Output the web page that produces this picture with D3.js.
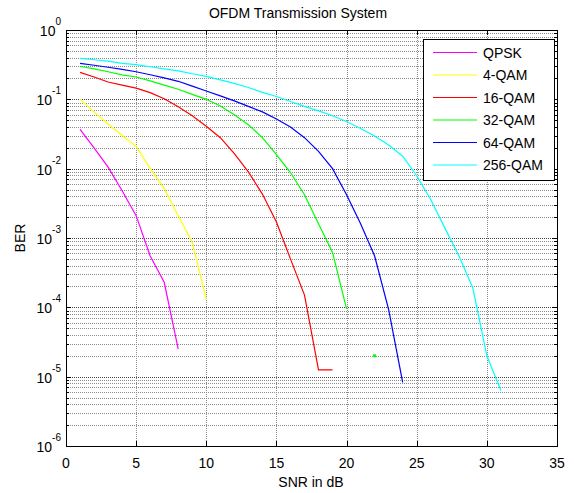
<!DOCTYPE html>
<html>
<head>
<meta charset="utf-8">
<script src="https://cdn.jsdelivr.net/npm/d3@7"></script>
<style>
body { margin: 0; background: #fff; }
text { font-family: "Liberation Sans", Arial, sans-serif; fill: #000; }
</style>
</head>
<body>
<div id="chart"></div>
<script>
// SNR points (dB)
var snr = [1,2,3,4,5,6,7,8,9,10,11,12,13,14,15,16,17,18,19,20,21,22,23,24,25,26,27,28,29,30,31]

// BER, one value per snr point (0 = not plotted on log axis)
var qpskBer = [0.037, 0.020, 0.0105, 0.0048, 0.0021, 5.5e-4, 2.3e-4, 2.5e-5]
var qam4Ber = [0.1, 0.066, 0.044, 0.030, 0.021, 0.010, 0.0052, 0.0021, 8.7e-4, 1.3e-4]
var qam16Ber = [0.245, 0.21, 0.178, 0.16, 0.145, 0.125, 0.102, 0.078, 0.058, 0.041,
    0.028, 0.0165, 0.009, 0.0043, 0.0017, 5e-4, 1.5e-4, 1.25e-5, 1.25e-5]
var qam32Ber = [0.30, 0.275, 0.25, 0.225, 0.21, 0.185, 0.16, 0.14, 0.118, 0.10,
    0.08, 0.06, 0.043, 0.028, 0.016, 0.0088, 0.0042, 0.0016, 6.2e-4, 9.5e-5, 0, 2e-5]
var qam64Ber = [0.33, 0.31, 0.29, 0.27, 0.25, 0.226, 0.204, 0.182, 0.155, 0.132,
    0.112, 0.095, 0.079, 0.066, 0.052, 0.040, 0.028, 0.0178, 0.010, 0.0042,
    0.0016, 5.5e-4, 9.3e-5, 8.3e-6]
var qam256Ber = [0.389, 0.372, 0.355, 0.331, 0.316, 0.295, 0.275, 0.257, 0.234, 0.214,
    0.191, 0.170, 0.148, 0.126, 0.110, 0.093, 0.079, 0.068, 0.058, 0.048,
    0.038, 0.0295, 0.0219, 0.0151, 0.0079, 0.0036, 0.0014, 5.6e-4, 1.9e-4, 2.0e-5, 6.3e-6]

var seriesNames = ['QPSK', '4-QAM', '16-QAM', '32-QAM', '64-QAM', '256-QAM']
var seriesData = [qpskBer, qam4Ber, qam16Ber, qam32Ber, qam64Ber, qam256Ber]
var seriesColors = ['#ff00ff', '#ffff00', '#ff0000', '#00ff00', '#0000ff', '#00ffff']

var xTicks = [0, 5, 10, 15, 20, 25, 30, 35]
var yTickExps = [0, -1, -2, -3, -4, -5, -6]

var W = 574, H = 493
// plot box (window.top is read-only, so no plain "top")
var pL = 66, pR = 557, pT = 30, pB = 446

var svg = d3.select('#chart').append('svg')
    .attr('width', W)
    .attr('height', H)

var x = d3.scaleLinear().domain([0, 35]).range([pL, pR])
var y = d3.scaleLog().domain([1e-6, 1]).range([pB, pT])

// minor values for log grid
var minorVals = []
yTickExps.forEach(function(e){
    if(e == 0) return
    for(var k=2; k<10; k++) minorVals.push(k*Math.pow(10, e))
})
var majorVals = yTickExps.map(function(e){ return Math.pow(10, e) })

var grid = svg.append('g')
grid.selectAll('line.hmin')
    .data(minorVals)
    .enter().append('line')
    .attr('x1', pL).attr('x2', pR)
    .attr('y1', function(d){ return Math.round(y(d)) + 0.5 })
    .attr('y2', function(d){ return Math.round(y(d)) + 0.5 })
    .attr('stroke', '#8c8c8c')
    .attr('stroke-dasharray', '1,1')
grid.selectAll('line.hmaj')
    .data(majorVals.slice(1, -1))
    .enter().append('line')
    .attr('x1', pL).attr('x2', pR)
    .attr('y1', function(d){ return Math.round(y(d)) + 0.5 })
    .attr('y2', function(d){ return Math.round(y(d)) + 0.5 })
    .attr('stroke', '#444')
    .attr('stroke-dasharray', '1,1')
grid.selectAll('line.v')
    .data(xTicks.slice(1, -1))
    .enter().append('line')
    .attr('y1', pT).attr('y2', pB)
    .attr('x1', function(d){ return Math.round(x(d)) + 0.5 })
    .attr('x2', function(d){ return Math.round(x(d)) + 0.5 })
    .attr('stroke', '#8c8c8c')
    .attr('stroke-dasharray', '1,1')

// curves
var line = d3.line()
    .defined(function(d){ return d.ber > 0 })
    .x(function(d){ return x(d.snr) })
    .y(function(d){ return y(d.ber) })

seriesData.forEach(function(vals, s){
    var pts = vals.map(function(v, i){ return {snr: snr[i], ber: v} })
    svg.append('path')
        .datum(pts)
        .attr('d', line)
        .attr('fill', 'none')
        .attr('stroke', seriesColors[s])
        .attr('stroke-width', 1.2)
    // lone points show up as a dot
    var lone = pts.filter(function(d, i){
        var prev = i > 0 ? pts[i-1].ber : 0
        var next = i < pts.length-1 ? pts[i+1].ber : 0
        return d.ber > 0 && prev == 0 && next == 0
    })
    svg.selectAll('rect.lone' + s)
        .data(lone)
        .enter().append('rect')
        .attr('x', function(d){ return x(d.snr) - 1.5 })
        .attr('y', function(d){ return y(d.ber) - 1.5 })
        .attr('width', 3).attr('height', 3)
        .attr('fill', seriesColors[s])
})

// box and ticks, all sides, pointing in
svg.append('rect')
    .attr('x', pL + 0.5).attr('y', pT + 0.5)
    .attr('width', pR - pL).attr('height', pB - pT)
    .attr('fill', 'none').attr('stroke', '#000')

var ticks = svg.append('g').attr('stroke', '#000')
xTicks.forEach(function(t){
    var px = Math.round(x(t)) + 0.5
    ticks.append('line').attr('x1', px).attr('x2', px).attr('y1', pB).attr('y2', pB - 5)
    ticks.append('line').attr('x1', px).attr('x2', px).attr('y1', pT).attr('y2', pT + 5)
})
majorVals.forEach(function(v){
    var py = Math.round(y(v)) + 0.5
    ticks.append('line').attr('x1', pL).attr('x2', pL + 5).attr('y1', py).attr('y2', py)
    ticks.append('line').attr('x1', pR).attr('x2', pR - 5).attr('y1', py).attr('y2', py)
})
minorVals.forEach(function(v){
    var py = Math.round(y(v)) + 0.5
    ticks.append('line').attr('x1', pL).attr('x2', pL + 3).attr('y1', py).attr('y2', py)
    ticks.append('line').attr('x1', pR).attr('x2', pR - 3).attr('y1', py).attr('y2', py)
})

// tick labels
svg.selectAll('text.xt')
    .data(xTicks)
    .enter().append('text')
    .attr('x', function(d){ return x(d) })
    .attr('y', 468)
    .attr('text-anchor', 'middle')
    .style('font-size', '14px')
    .text(function(d){ return d })

yTickExps.forEach(function(e){
    var t = svg.append('text')
        .attr('x', 61)
        .attr('y', y(Math.pow(10, e)) + 6)
        .attr('text-anchor', 'end')
        .style('font-size', '14px')
    t.append('tspan').text('10')
    t.append('tspan').attr('dy', -11).style('font-size', '10px').text(e)
})

// titles
svg.append('text')
    .attr('x', 298).attr('y', 18)
    .attr('text-anchor', 'middle')
    .style('font-size', '14px')
    .text('OFDM Transmission System')
svg.append('text')
    .attr('x', 311).attr('y', 487)
    .attr('text-anchor', 'middle')
    .style('font-size', '14px')
    .text('SNR in dB')
svg.append('text')
    .attr('transform', 'translate(25,238) rotate(-90)')
    .attr('text-anchor', 'middle')
    .style('font-size', '14px')
    .text('BER')

// legend
var lg = svg.append('g')
lg.append('rect')
    .attr('x', 423.5).attr('y', 39.5)
    .attr('width', 131).attr('height', 141)
    .attr('fill', '#fff').attr('stroke', '#000')
seriesNames.forEach(function(n, i){
    var ry = 52.5 + i * 22.5
    lg.append('line')
        .attr('x1', 433).attr('x2', 477)
        .attr('y1', ry).attr('y2', ry)
        .attr('stroke', seriesColors[i])
        .attr('stroke-width', 1.2)
    lg.append('text')
        .attr('x', 483).attr('y', ry + 5)
        .style('font-size', '14px')
        .text(n)
})
</script>
</body>
</html>
